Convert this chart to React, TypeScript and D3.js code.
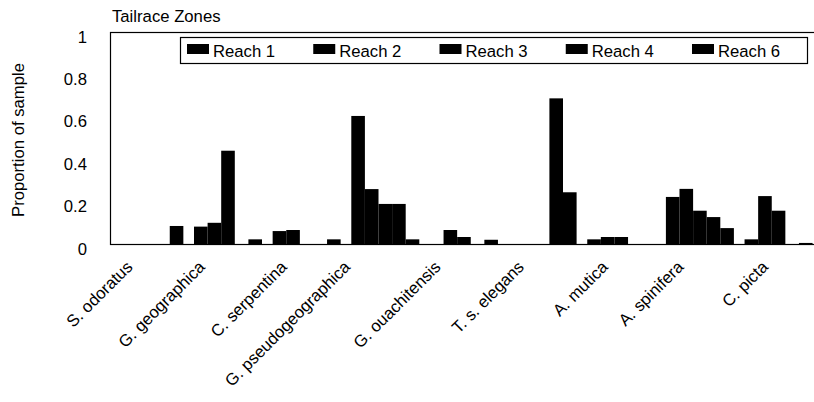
import React, { useEffect, useRef } from 'react';
import * as d3 from 'd3';

// species (categories)
const species = [
  'S. odoratus',
  'G. geographica',
  'C. serpentina',
  'G. pseudogeographica',
  'G. ouachitensis',
  'T. s. elegans',
  'A. mutica',
  'A. spinifera',
  'C. picta'
];

const seriesNames = ['Reach 1', 'Reach 2', 'Reach 3', 'Reach 4', 'Reach 6'];

// proportion of sample
const reach1 = [0, 0.082, 0.061, 0.604, 0, 0, 0.022, 0.222, 0.022];
const reach2 = [0, 0.1, 0.066, 0.259, 0.066, 0, 0.033, 0.26, 0.226];
const reach3 = [0, 0.44, 0, 0.189, 0.033, 0, 0.033, 0.157, 0.157];
const reach4 = [0, 0, 0, 0.189, 0, 0.687, 0, 0.127, 0];
const reach6 = [0.085, 0.022, 0.022, 0.022, 0.02, 0.244, 0, 0.075, 0.005];

const yTicks = [0, 0.2, 0.4, 0.6, 0.8, 1];
const yTickLabels = ['0', '0.2', '0.4', '0.6', '0.8', '1'];

const title = 'Tailrace Zones';
const yTitle = 'Proportion of sample';

const FONT = '"Liberation Sans", Arial, sans-serif';
const FS = 16.7;

const App = () => {
  const svgRef = useRef<SVGSVGElement | null>(null);

  useEffect(() => {
    const svg = d3.select(svgRef.current);
    svg.selectAll('*').remove();

    const left = 110;
    const top = 32;
    const bottom = 244;
    const bandW = 78.65;
    const right = left + bandW * species.length;

    const series = [reach1, reach2, reach3, reach4, reach6];

    const x0 = d3.scaleBand<string>()
      .domain(species)
      .range([left, right])
      .padding(0);

    const x1 = d3.scaleBand<string>()
      .domain(seriesNames)
      .range([5.35, 73.35])
      .padding(0);

    const y = d3.scaleLinear().domain([0, 1]).range([bottom, top]);

    // bars
    const g = svg.append('g');
    species.forEach((sp, i) => {
      seriesNames.forEach((s, j) => {
        const v = series[j][i];
        if (v <= 0) return;
        g.append('rect')
          .attr('x', (x0(sp) as number) + (x1(s) as number))
          .attr('y', y(v))
          .attr('width', x1.bandwidth())
          .attr('height', y(0) - y(v))
          .attr('fill', '#000');
      });
    });

    // plot frame
    svg.append('rect')
      .attr('x', left + 0.5)
      .attr('y', top + 0.5)
      .attr('width', right - left)
      .attr('height', bottom - top)
      .attr('fill', 'none')
      .attr('stroke', '#000')
      .attr('stroke-width', 1.2);

    // y tick labels
    yTicks.forEach((t, i) => {
      svg.append('text')
        .attr('x', 87)
        .attr('y', y(t) + 10.5)
        .attr('text-anchor', 'end')
        .attr('font-family', FONT)
        .attr('font-size', FS)
        .text(yTickLabels[i]);
    });

    // category labels, rotated
    species.forEach((sp) => {
      const cx = (x0(sp) as number) + x0.bandwidth() / 2;
      const t = svg.append('text')
        .attr('text-anchor', 'end')
        .attr('font-family', FONT)
        .attr('font-size', FS)
        .text(sp);
      const w = (t.node() as SVGTextElement).getComputedTextLength();
      const off = 0.22 * w - 3;
      t.attr('transform', `translate(${cx - off},268) rotate(-45)`);
    });

    // y axis title
    svg.append('text')
      .attr('transform', `translate(23.5,140) rotate(-90)`)
      .attr('text-anchor', 'middle')
      .attr('font-family', FONT)
      .attr('font-size', FS)
      .text(yTitle);

    // chart title
    svg.append('text')
      .attr('x', 112)
      .attr('y', 22)
      .attr('font-family', FONT)
      .attr('font-size', FS)
      .text(title);

    // legend
    const lg = svg.append('g');
    lg.append('rect')
      .attr('x', 180.5)
      .attr('y', 37.5)
      .attr('width', 627)
      .attr('height', 26)
      .attr('fill', '#fff')
      .attr('stroke', '#000')
      .attr('stroke-width', 1.2);

    const lx = d3.scaleLinear().domain([0, seriesNames.length - 1]).range([187, 692]);
    seriesNames.forEach((s, i) => {
      lg.append('rect')
        .attr('x', lx(i))
        .attr('y', 44)
        .attr('width', 22)
        .attr('height', 10)
        .attr('fill', '#000');
      lg.append('text')
        .attr('x', lx(i) + 26)
        .attr('y', 57)
        .attr('font-family', FONT)
        .attr('font-size', FS)
        .text(s);
    });
  }, []);

  return (
    <svg
      ref={svgRef}
      width={814}
      height={402}
      style={{ position: 'absolute', left: 0, top: 0, background: '#fff' }}
    />
  );
};

export default App;
